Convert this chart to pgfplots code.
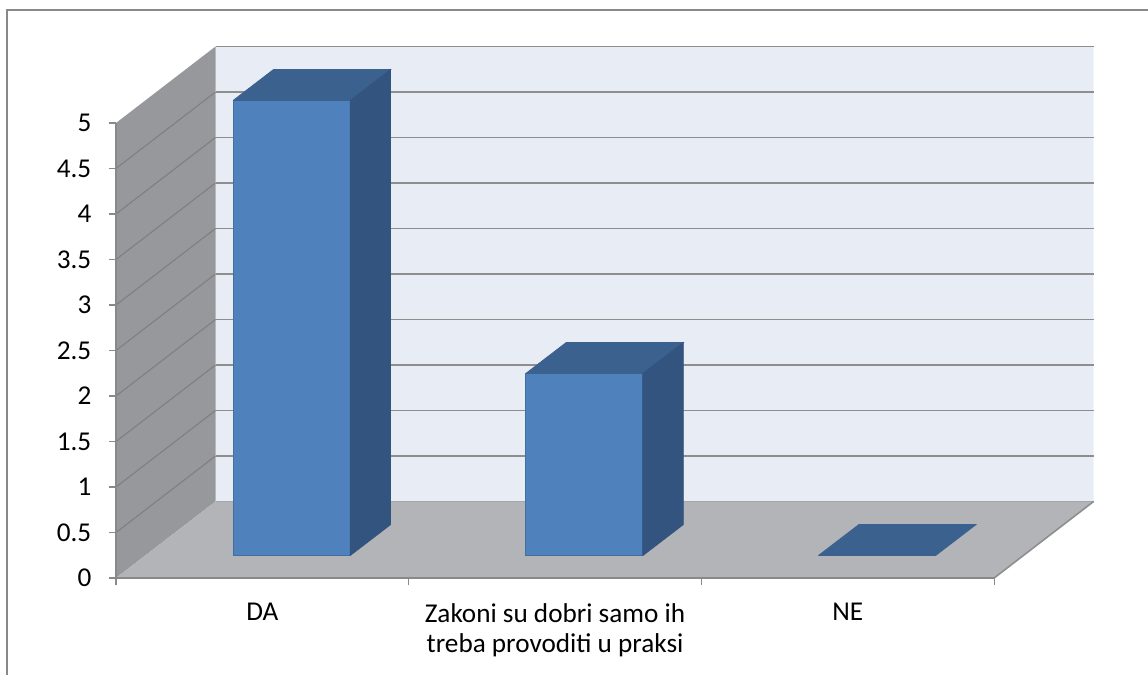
\documentclass[border=0pt]{standalone}
\usepackage{fontspec}
\setmainfont{Carlito}
\usepackage{pgfplots}
\pgfplotsset{compat=1.18}
\definecolor{backwall}{HTML}{E8ECF5}
\definecolor{leftwall}{HTML}{97989C}
\definecolor{floorc}{HTML}{B2B4B8}
\definecolor{gridc}{HTML}{8E8E8E}
\definecolor{lgridc}{HTML}{7E7F82}
\definecolor{axisc}{HTML}{898989}
\definecolor{barfront}{HTML}{4F81BD}
\definecolor{bartop}{HTML}{3B618E}
\definecolor{barside}{HTML}{33547E}
\definecolor{baredge}{HTML}{41709F}
\begin{document}
\begin{tikzpicture}
\path[use as bounding box] (0,0) rectangle (861pt,506.25pt);
\draw[color=axisc, line width=1.1pt] (5.25pt,0) -- (5.25pt,498.75pt) -- (861pt,498.75pt);
\begin{axis}[
  at={(87pt,72.75pt)}, anchor=south west,
  x=219.525pt, y=68.25pt,
  xmin=0.5, xmax=3.84, ymin=0, ymax=5.841,
  clip=false,
  axis x line*=bottom, axis y line*=left,
  axis line style={draw=none},
  tick align=outside,
  major tick length=5.5pt,
  tick style={color=axisc, line width=0.8pt},
  ytick={0,0.5,...,5},
  xtick={0.5,1.5,2.5,3.5},
  xticklabels={},
  extra x ticks={1,2,3},
  extra x tick labels={DA,{Zakoni su dobri samo ih\\treba provoditi u praksi},NE},
  extra x tick style={major tick length=0pt, tick label style={align=center, anchor=north, yshift=-15.5pt}},
  tick label style={font=\fontsize{20.4}{23}\selectfont, text=black},
  yticklabel style={xshift=-9.5pt},
  /pgf/number format/assume math mode=true,
]
% back wall
\addplot[fill=backwall, draw=none] coordinates {(0.84,0.841) (3.84,0.841) (3.84,5.841) (0.84,5.841) (0.84,0.841)};
% back gridlines
\addplot[gridc, line width=1.4pt] coordinates {(0.84,0.841) (3.84,0.841)};
\addplot[gridc, line width=1.4pt] coordinates {(0.84,1.341) (3.84,1.341)};
\addplot[gridc, line width=1.4pt] coordinates {(0.84,1.841) (3.84,1.841)};
\addplot[gridc, line width=1.4pt] coordinates {(0.84,2.341) (3.84,2.341)};
\addplot[gridc, line width=1.4pt] coordinates {(0.84,2.841) (3.84,2.841)};
\addplot[gridc, line width=1.4pt] coordinates {(0.84,3.341) (3.84,3.341)};
\addplot[gridc, line width=1.4pt] coordinates {(0.84,3.841) (3.84,3.841)};
\addplot[gridc, line width=1.4pt] coordinates {(0.84,4.341) (3.84,4.341)};
\addplot[gridc, line width=1.4pt] coordinates {(0.84,4.841) (3.84,4.841)};
\addplot[gridc, line width=1.4pt] coordinates {(0.84,5.341) (3.84,5.341)};
\addplot[gridc, line width=1.4pt] coordinates {(0.84,5.841) (3.84,5.841)};
% left wall
\addplot[fill=leftwall, draw=none] coordinates {(0.5,0) (0.5,5) (0.84,5.841) (0.84,0.841) (0.5,0)};
\addplot[lgridc, line width=0.8pt] coordinates {(0.5,0.5) (0.84,1.341)};
\addplot[lgridc, line width=0.8pt] coordinates {(0.5,1.0) (0.84,1.841)};
\addplot[lgridc, line width=0.8pt] coordinates {(0.5,1.5) (0.84,2.341)};
\addplot[lgridc, line width=0.8pt] coordinates {(0.5,2.0) (0.84,2.841)};
\addplot[lgridc, line width=0.8pt] coordinates {(0.5,2.5) (0.84,3.341)};
\addplot[lgridc, line width=0.8pt] coordinates {(0.5,3.0) (0.84,3.841)};
\addplot[lgridc, line width=0.8pt] coordinates {(0.5,3.5) (0.84,4.341)};
\addplot[lgridc, line width=0.8pt] coordinates {(0.5,4.0) (0.84,4.841)};
\addplot[lgridc, line width=0.8pt] coordinates {(0.5,4.5) (0.84,5.341)};
% floor
\addplot[fill=floorc, draw=none] coordinates {(0.5,0) (3.5,0) (3.84,0.841) (0.84,0.841) (0.5,0)};
\addplot[gridc, line width=1.2pt] coordinates {(3.5,0) (3.84,0.841)};
% bar DA = 5
\addplot[fill=barfront, draw=baredge, line width=0.6pt] coordinates {(0.9,0.247) (1.3,0.247) (1.3,5.247) (0.9,5.247) (0.9,0.247)};
\addplot[fill=bartop, draw=bartop, line width=0.6pt] coordinates {(0.9,5.247) (1.3,5.247) (1.438,5.587) (1.038,5.587) (0.9,5.247)};
\addplot[fill=barside, draw=barside, line width=0.6pt] coordinates {(1.3,0.247) (1.438,0.587) (1.438,5.587) (1.3,5.247) (1.3,0.247)};
% bar Zakoni = 2
\addplot[fill=barfront, draw=baredge, line width=0.6pt] coordinates {(1.9,0.247) (2.3,0.247) (2.3,2.247) (1.9,2.247) (1.9,0.247)};
\addplot[fill=bartop, draw=bartop, line width=0.6pt] coordinates {(1.9,2.247) (2.3,2.247) (2.438,2.587) (2.038,2.587) (1.9,2.247)};
\addplot[fill=barside, draw=barside, line width=0.6pt] coordinates {(2.3,0.247) (2.438,0.587) (2.438,2.587) (2.3,2.247) (2.3,0.247)};
% bar NE = 0
\addplot[fill=bartop, draw=bartop, line width=0.6pt] coordinates {(2.9,0.247) (3.3,0.247) (3.438,0.587) (3.038,0.587) (2.9,0.247)};
% axis lines
\addplot[axisc, line width=1.2pt] coordinates {(0.5,5) (0.5,0) (3.5,0)};
\end{axis}
\end{tikzpicture}
\end{document}
